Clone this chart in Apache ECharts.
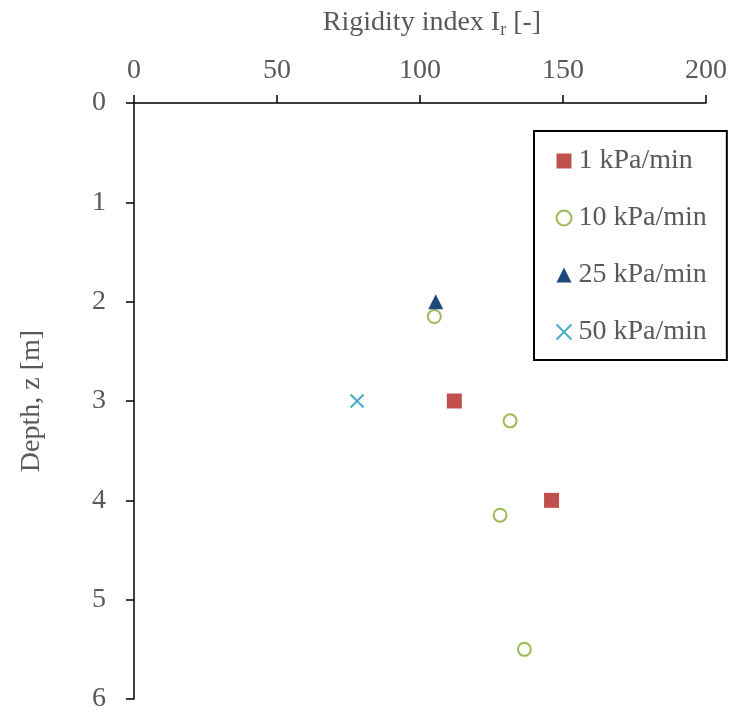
<!DOCTYPE html>
<html>
<head>
<meta charset="utf-8">
<script src="https://cdn.jsdelivr.net/npm/echarts@6/dist/echarts.min.js"></script>
<style>
  html, body { margin: 0; padding: 0; background: #fff; }
  #chart { width: 730px; height: 713px; }
</style>
</head>
<body>
<div id="chart"></div>
<script>
// Rigidity index vs depth, grouped by loading rate
const seriesNames = ['1 kPa/min', '10 kPa/min', '25 kPa/min', '50 kPa/min'];
const rate1 = [[112, 3.0], [146, 4.0]];
const rate10 = [[105, 2.15], [131.5, 3.2], [128, 4.15], [136.5, 5.5]];
const rate25 = [[105.5, 2.0]];
const rate50 = [[78, 3.0]];
const xTicks = [0, 50, 100, 150, 200];
const yTicks = [0, 1, 2, 3, 4, 5, 6];

const font = 'Liberation Serif, Times New Roman, serif';
const grey = '#595959';
const fs = 28;

const chart = echarts.init(document.getElementById('chart'));
chart.setOption({
  animation: false,
  backgroundColor: '#fff',
  grid: { left: 134, top: 103, width: 572, height: 596, containLabel: false, outerBoundsMode: 'none' },
  xAxis: {
    type: 'value', position: 'top',
    min: xTicks[0], max: xTicks[xTicks.length - 1], interval: 50,
    name: '{a|Rigidity index I}{s|r}{a| [-]}',
    nameLocation: 'middle', nameGap: 64,
    nameTextStyle: {
      padding: [0, 0, 0, 24],
      rich: {
        a: { fontFamily: font, fontSize: fs, color: grey },
        s: { fontFamily: font, fontSize: 18, color: grey, padding: [14, 0, 0, 0] }
      }
    },
    axisLine: { show: true, onZero: false, lineStyle: { color: '#000', width: 1.5 } },
    axisTick: { show: true, length: 8, lineStyle: { color: '#000', width: 1.5 } },
    axisLabel: { fontFamily: font, fontSize: fs, color: grey, margin: 18 },
    splitLine: { show: false }
  },
  yAxis: {
    type: 'value', inverse: true,
    min: yTicks[0], max: yTicks[yTicks.length - 1], interval: 1,
    name: 'Depth, z [m]',
    nameLocation: 'middle', nameGap: 88, nameRotate: 90,
    nameTextStyle: { fontFamily: font, fontSize: fs, color: grey },
    axisLine: { show: true, onZero: false, lineStyle: { color: '#000', width: 1.5 } },
    axisTick: { show: true, length: 8, lineStyle: { color: '#000', width: 1.5 } },
    axisLabel: { fontFamily: font, fontSize: fs, color: grey, margin: 28 },
    splitLine: { show: false }
  },
  legend: {
    orient: 'vertical',
    left: 534, top: 131,
    padding: [16, 20, 14, 20],
    itemGap: 29,
    itemWidth: 15, itemHeight: 15,
    borderColor: '#000', borderWidth: 2,
    textStyle: { fontFamily: font, fontSize: fs, color: grey, lineHeight: 28, padding: [0, 0, 0, 2] },
    data: seriesNames
  },
  series: [
    {
      name: seriesNames[0], type: 'scatter', data: rate1,
      symbol: 'rect', symbolSize: 15,
      itemStyle: { color: '#c0504d', opacity: 1 }
    },
    {
      name: seriesNames[1], type: 'scatter', data: rate10,
      symbol: 'circle', symbolSize: 13,
      itemStyle: { color: '#fff', borderColor: '#9bbb59', borderWidth: 2, opacity: 1 }
    },
    {
      name: seriesNames[2], type: 'scatter', data: rate25,
      symbol: 'triangle', symbolSize: 15,
      itemStyle: { color: '#1f497d', opacity: 1 }
    },
    {
      name: seriesNames[3], type: 'scatter', data: rate50,
      symbol: 'path://M0,0L10,10M10,0L0,10', symbolSize: 13,
      itemStyle: { color: 'none', borderColor: '#4bacc6', borderWidth: 2, opacity: 1 }
    }
  ]
});
</script>
</body>
</html>
